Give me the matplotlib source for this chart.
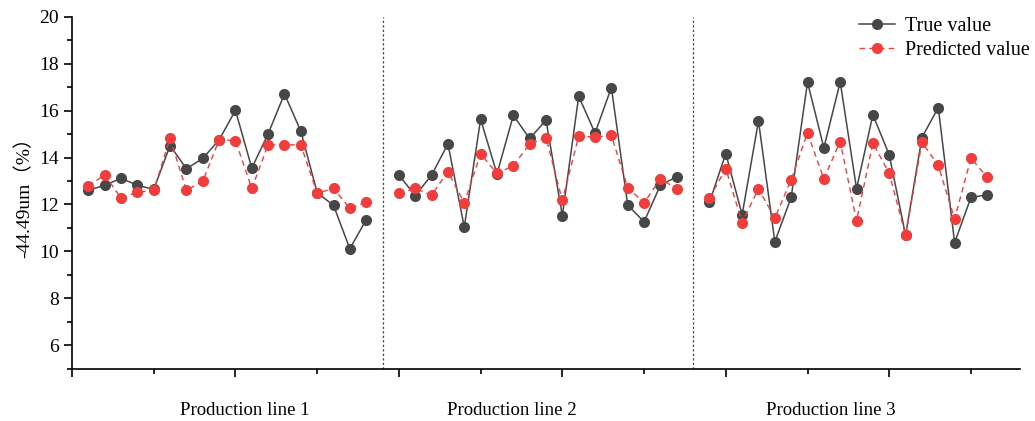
import matplotlib.pyplot as plt
from matplotlib.ticker import MultipleLocator, NullFormatter

# values
line1_true = [12.60, 12.82, 13.11, 12.82, 12.64, 14.51, 13.52, 13.96, 14.75, 16.01,
              13.55, 15.01, 16.71, 15.12, 12.50, 11.96, 10.11, 11.35]
line1_pred = [12.79, 13.26, 12.27, 12.52, 12.60, 14.82, 12.60, 12.99, 14.75, 14.72,
              12.68, 14.54, 14.54, 14.54, 12.48, 12.68, 11.83, 12.10]
line2_true = [13.25, 12.38, 13.25, 14.58, 11.04, 15.63, 13.30, 15.79, 14.81, 15.59,
              11.52, 16.61, 15.04, 16.98, 11.97, 11.26, 12.82, 13.18]
line2_pred = [12.47, 12.68, 12.40, 13.40, 12.06, 14.16, 13.32, 13.65, 14.57, 14.85,
              12.17, 14.91, 14.87, 14.94, 12.72, 12.06, 13.09, 12.67]
line3_true = [12.09, 14.17, 11.56, 15.56, 10.41, 12.30, 17.21, 14.41, 17.22, 12.67,
              15.82, 14.11, 10.69, 14.85, 16.13, 10.37, 12.30, 12.41]
line3_pred = [12.27, 13.53, 11.23, 12.67, 11.42, 13.05, 15.05, 13.09, 14.68, 11.30,
              14.61, 13.33, 10.69, 14.65, 13.66, 11.38, 13.97, 13.15]
group_names = ['Production line 1', 'Production line 2', 'Production line 3']

groups = [(line1_true, line1_pred), (line2_true, line2_pred), (line3_true, line3_pred)]
n = len(line1_true)

plt.rcParams['font.family'] = ['Liberation Serif', 'Noto Sans CJK SC']

fig = plt.figure(figsize=(10.35, 4.21), dpi=100)
ax = fig.add_axes([72 / 1035, 1 - 368.7 / 421, (1020 - 72) / 1035, (368.7 - 16.7) / 421])

dark = '#474747'
red = '#f23d3d'
for g, (t, p) in enumerate(groups):
    start = g * (n + 1) + 1
    xs = list(range(start, start + n))
    ax.plot(xs, t, '-o', color=dark, lw=1.1, ms=8, markeredgewidth=0,
            label='True value' if g == 0 else None, zorder=3)
    ax.plot(xs, p, '--o', color=red, lw=1.0, ms=8, markeredgewidth=0,
            dashes=(4, 3), label='Predicted value' if g == 0 else None, zorder=4)

for g in (1, 2):
    ax.axvline(g * (n + 1), color='#444444', lw=0.9, ls=(0, (1.8, 1.8)), zorder=1)

ax.set_xlim(0, 3 * n + 4)
ax.set_ylim(5, 20)
ax.yaxis.set_minor_locator(MultipleLocator(1))
ax.xaxis.set_major_locator(MultipleLocator(10))
ax.xaxis.set_minor_locator(MultipleLocator(5))
ax.xaxis.set_major_formatter(NullFormatter())
ax.set_yticks(range(6, 21, 2))
ax.tick_params(which='major', length=6, width=1.2, direction='out', labelsize=14)
ax.tick_params(which='minor', length=3.5, width=1.2, direction='out')
for s in ['top', 'right']:
    ax.spines[s].set_visible(False)
for s in ['left', 'bottom']:
    ax.spines[s].set_linewidth(1.2)

ax.set_ylabel('-44.49um（%）', fontsize=14, labelpad=4)

centers = [10.6, 26.9, 46.4]
for c, name in zip(centers, group_names):
    ax.text(c, -0.12, name, transform=ax.get_xaxis_transform(), ha='center', va='center',
            fontsize=13.5)

ax.legend(loc='upper right', bbox_to_anchor=(1.03, 1.05), frameon=False, fontsize=14.5,
          handlelength=1.8, handletextpad=0.5, labelspacing=0.25)

fig.savefig('out.png', dpi=100)
